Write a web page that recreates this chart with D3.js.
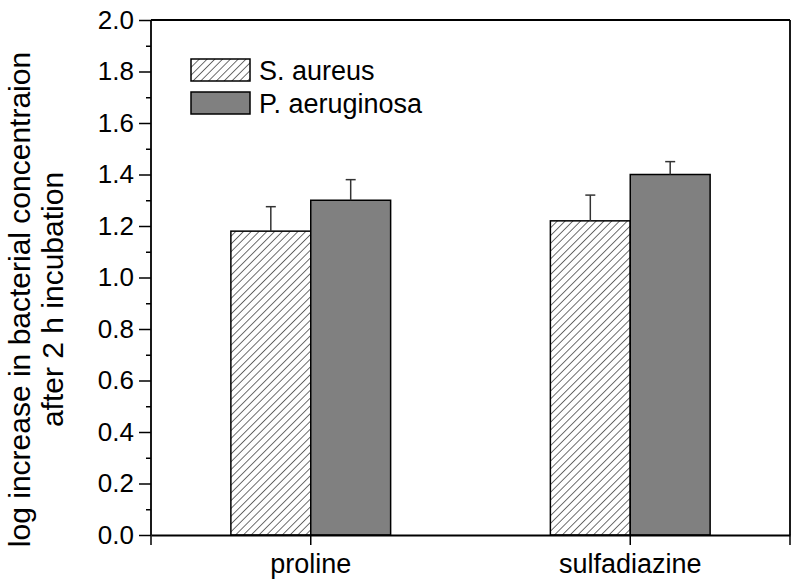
<!DOCTYPE html>
<html>
<head>
<meta charset="utf-8">
<script src="https://cdn.jsdelivr.net/npm/d3@7"></script>
<style>
  body { margin: 0; background: #fff; }
  text { font-family: "Liberation Sans", Arial, sans-serif; fill: #000; }
</style>
</head>
<body>
<div id="chart"></div>
<script>
// Data
const categories = ["proline", "sulfadiazine"];
const seriesNames = ["S. aureus", "P. aeruginosa"];
const saureusMeans = [1.18, 1.22];
const saureusErrors = [0.095, 0.10];
const paeruginosaMeans = [1.30, 1.40];
const paeruginosaErrors = [0.08, 0.05];
const yTicks = [0.0, 0.2, 0.4, 0.6, 0.8, 1.0, 1.2, 1.4, 1.6, 1.8, 2.0];

const rows = [];
categories.forEach((c, i) => {
    rows.push({ cat: c, series: seriesNames[0], value: saureusMeans[i], err: saureusErrors[i] });
    rows.push({ cat: c, series: seriesNames[1], value: paeruginosaMeans[i], err: paeruginosaErrors[i] });
});

// Dimensions
const width = 800;
const height = 588;
const margin = { top: 20, right: 10, bottom: 53, left: 151 };
const innerW = width - margin.left - margin.right;
const innerH = height - margin.top - margin.bottom;

const svg = d3.select("#chart")
    .append("svg")
    .attr("width", width)
    .attr("height", height);

// Hatch pattern for S. aureus
const defs = svg.append("defs");
defs.append("pattern")
    .attr("id", "hatch")
    .attr("patternUnits", "userSpaceOnUse")
    .attr("width", 5.5)
    .attr("height", 5.5)
    .attr("patternTransform", "rotate(45)")
    .append("line")
    .attr("x1", 0).attr("y1", 0)
    .attr("x2", 0).attr("y2", 5.5)
    .attr("stroke", "#222")
    .attr("stroke-width", 1.3);

const fills = { "S. aureus": "url(#hatch)", "P. aeruginosa": "#808080" };

const g = svg.append("g")
    .attr("transform", `translate(${margin.left}, ${margin.top})`);

// Scales
const x = d3.scaleBand()
    .domain(categories)
    .range([0, innerW])
    .paddingInner(0.5)
    .paddingOuter(0.25);

const xs = d3.scaleBand()
    .domain(seriesNames)
    .range([0, x.bandwidth()]);

const y = d3.scaleLinear()
    .domain([0, 2])
    .range([innerH, 0]);

// Bars
g.selectAll(".bar")
    .data(rows)
    .enter()
    .append("rect")
    .attr("x", d => x(d.cat) + xs(d.series))
    .attr("y", d => y(d.value))
    .attr("width", xs.bandwidth())
    .attr("height", d => innerH - y(d.value))
    .attr("fill", d => fills[d.series])
    .attr("stroke", "#000")
    .attr("stroke-width", 1.5);

// Error bars (upper only)
const err = g.selectAll(".err")
    .data(rows)
    .enter()
    .append("g")
    .attr("stroke", "#333")
    .attr("stroke-width", 1.5);

err.append("line")
    .attr("x1", d => x(d.cat) + xs(d.series) + xs.bandwidth() / 2)
    .attr("x2", d => x(d.cat) + xs(d.series) + xs.bandwidth() / 2)
    .attr("y1", d => y(d.value))
    .attr("y2", d => y(d.value + d.err));

err.append("line")
    .attr("x1", d => x(d.cat) + xs(d.series) + xs.bandwidth() / 2 - 5)
    .attr("x2", d => x(d.cat) + xs(d.series) + xs.bandwidth() / 2 + 5)
    .attr("y1", d => y(d.value + d.err))
    .attr("y2", d => y(d.value + d.err));

// Frame (top and right)
g.append("line")
    .attr("x1", 0).attr("x2", innerW)
    .attr("y1", 0).attr("y2", 0)
    .attr("stroke", "#000").attr("stroke-width", 1.8);
g.append("line")
    .attr("x1", innerW).attr("x2", innerW)
    .attr("y1", 0).attr("y2", innerH)
    .attr("stroke", "#000").attr("stroke-width", 1.8);

// Y axis with minor ticks
const yMinor = d3.range(1, 20, 2).map(v => v / 10);
g.append("g")
    .call(d3.axisLeft(y).tickValues(yMinor).tickSize(5).tickFormat(""))
    .call(a => a.select(".domain").remove())
    .selectAll("line").attr("stroke-width", 1.5);

const yAxis = g.append("g")
    .call(d3.axisLeft(y).tickValues(yTicks).tickSize(12).tickPadding(5).tickFormat(d3.format(".1f")));
yAxis.select(".domain").attr("stroke-width", 1.8).attr("d", `M0,${innerH}V0`);
yAxis.selectAll("line").attr("stroke-width", 1.5);
yAxis.selectAll("text")
    .style("font-size", "26px")
    .style("font-family", "Liberation Sans, Arial, sans-serif");

// X axis: ticks at both ends and at each category
const xAxis = g.append("g")
    .attr("transform", `translate(0, ${innerH})`)
    .call(d3.axisBottom(x).tickSize(10).tickPadding(9).tickSizeOuter(0));
xAxis.select(".domain").attr("stroke-width", 1.8);
xAxis.selectAll("line").attr("stroke-width", 1.5);
xAxis.selectAll("text")
    .style("font-size", "27px")
    .style("font-family", "Liberation Sans, Arial, sans-serif");

xAxis.selectAll(".end-tick")
    .data(x.range())
    .enter()
    .append("line")
    .attr("x1", d => d).attr("x2", d => d)
    .attr("y1", 0).attr("y2", 10)
    .attr("stroke", "#000")
    .attr("stroke-width", 1.5);

// Y axis title
const yTitle = svg.append("text")
    .attr("transform", `translate(19, ${margin.top + innerH / 2 + 22}) rotate(-90)`)
    .attr("text-anchor", "middle")
    .style("font-size", "30px");
yTitle.append("tspan")
    .attr("x", 0).attr("dy", "0.35em")
    .text("log increase in bacterial concentraion");
yTitle.append("tspan")
    .attr("x", 0).attr("dy", "1.13em")
    .text("after 2 h incubation");

// Legend
const legend = g.append("g")
    .attr("transform", "translate(40, 39)")
    .selectAll("g")
    .data(seriesNames)
    .enter()
    .append("g")
    .attr("transform", (d, i) => `translate(0, ${i * 33})`);

legend.append("rect")
    .attr("width", 59)
    .attr("height", 22)
    .attr("fill", d => fills[d])
    .attr("stroke", "#000")
    .attr("stroke-width", 1.5);

legend.append("text")
    .attr("x", 68)
    .attr("y", 11)
    .attr("dy", "0.36em")
    .style("font-size", "27px")
    .text(d => d);
</script>
</body>
</html>
